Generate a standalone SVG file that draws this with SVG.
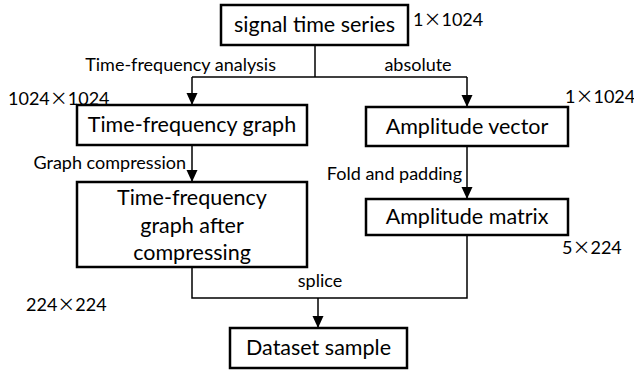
<svg xmlns="http://www.w3.org/2000/svg" width="634" height="375" viewBox="0 0 634 375">
<defs>
<marker id="ah" markerWidth="12" markerHeight="12" viewBox="0 0 12 12" refX="12" refY="6" orient="auto" markerUnits="userSpaceOnUse">
<path d="M0,0.5 L12,6 L0,11.5 Z" fill="#000"/>
</marker>
<style>
.box{fill:#fff;stroke:#000;stroke-width:2.5}
.bt{font-family:Lato,"Noto Sans CJK SC",sans-serif;font-size:21.5px;fill:#000;text-anchor:middle}
.lb{font-family:Lato,"Noto Sans CJK SC",sans-serif;font-size:18px;fill:#000}
.e{text-anchor:end}
.m{text-anchor:middle}
.x{font-family:"Noto Sans CJK SC",sans-serif}
.ln{fill:none;stroke:#000;stroke-width:1.5}
.ar{fill:none;stroke:#000;stroke-width:1.5;marker-end:url(#ah)}
</style>
</defs>
<g id="connectors">
<polyline class="ln" points="315,45 315,77"/>
<polyline class="ln" points="192,77 467,77"/>
<line class="ar" x1="192" y1="77" x2="192" y2="105"/>
<line class="ar" x1="467" y1="77" x2="467" y2="107"/>
<line class="ar" x1="192" y1="145" x2="192" y2="182"/>
<line class="ar" x1="467" y1="146" x2="467" y2="199"/>
<polyline class="ln" points="192,267 192,298 467,298 467,235"/>
<line class="ar" x1="318" y1="298" x2="318" y2="328"/>
</g>
<g id="signal">
<rect class="box" x="221" y="5" width="187" height="40"/>
<text class="bt" x="314.5" y="32">signal time series</text>
</g>
<g id="tfgraph">
<rect class="box" x="77" y="105" width="230" height="40"/>
<text class="bt" x="192" y="132">Time-frequency graph</text>
</g>
<g id="ampvec">
<rect class="box" x="366" y="107" width="202" height="39"/>
<text class="bt" x="467" y="134">Amplitude vector</text>
</g>
<g id="tfcomp">
<rect class="box" x="77" y="182" width="230" height="85"/>
<text class="bt" x="192" y="205">Time-frequency</text>
<text class="bt" x="192" y="233">graph after</text>
<text class="bt" x="192" y="260">compressing</text>
</g>
<g id="ampmat">
<rect class="box" x="366" y="199" width="202" height="36"/>
<text class="bt" x="467" y="224">Amplitude matrix</text>
</g>
<g id="dataset">
<rect class="box" x="230" y="328" width="177" height="40"/>
<text class="bt" x="318.5" y="355">Dataset sample</text>
</g>
<g id="labels">
<text class="lb" x="413" y="26">1<tspan class="x">×</tspan>1024</text>
<text class="lb e" x="276" y="71">Time-frequency analysis</text>
<text class="lb m" x="418" y="71">absolute</text>
<text class="lb" x="8" y="105">1024<tspan class="x">×</tspan>1024</text>
<text class="lb" x="565" y="103">1<tspan class="x">×</tspan>1024</text>
<text class="lb e" x="186" y="169">Graph compression</text>
<text class="lb e" x="462" y="180">Fold and padding</text>
<text class="lb" x="562" y="254">5<tspan class="x">×</tspan>224</text>
<text class="lb" x="26" y="311">224<tspan class="x">×</tspan>224</text>
<text class="lb m" x="320" y="287">splice</text>
</g>
</svg>
